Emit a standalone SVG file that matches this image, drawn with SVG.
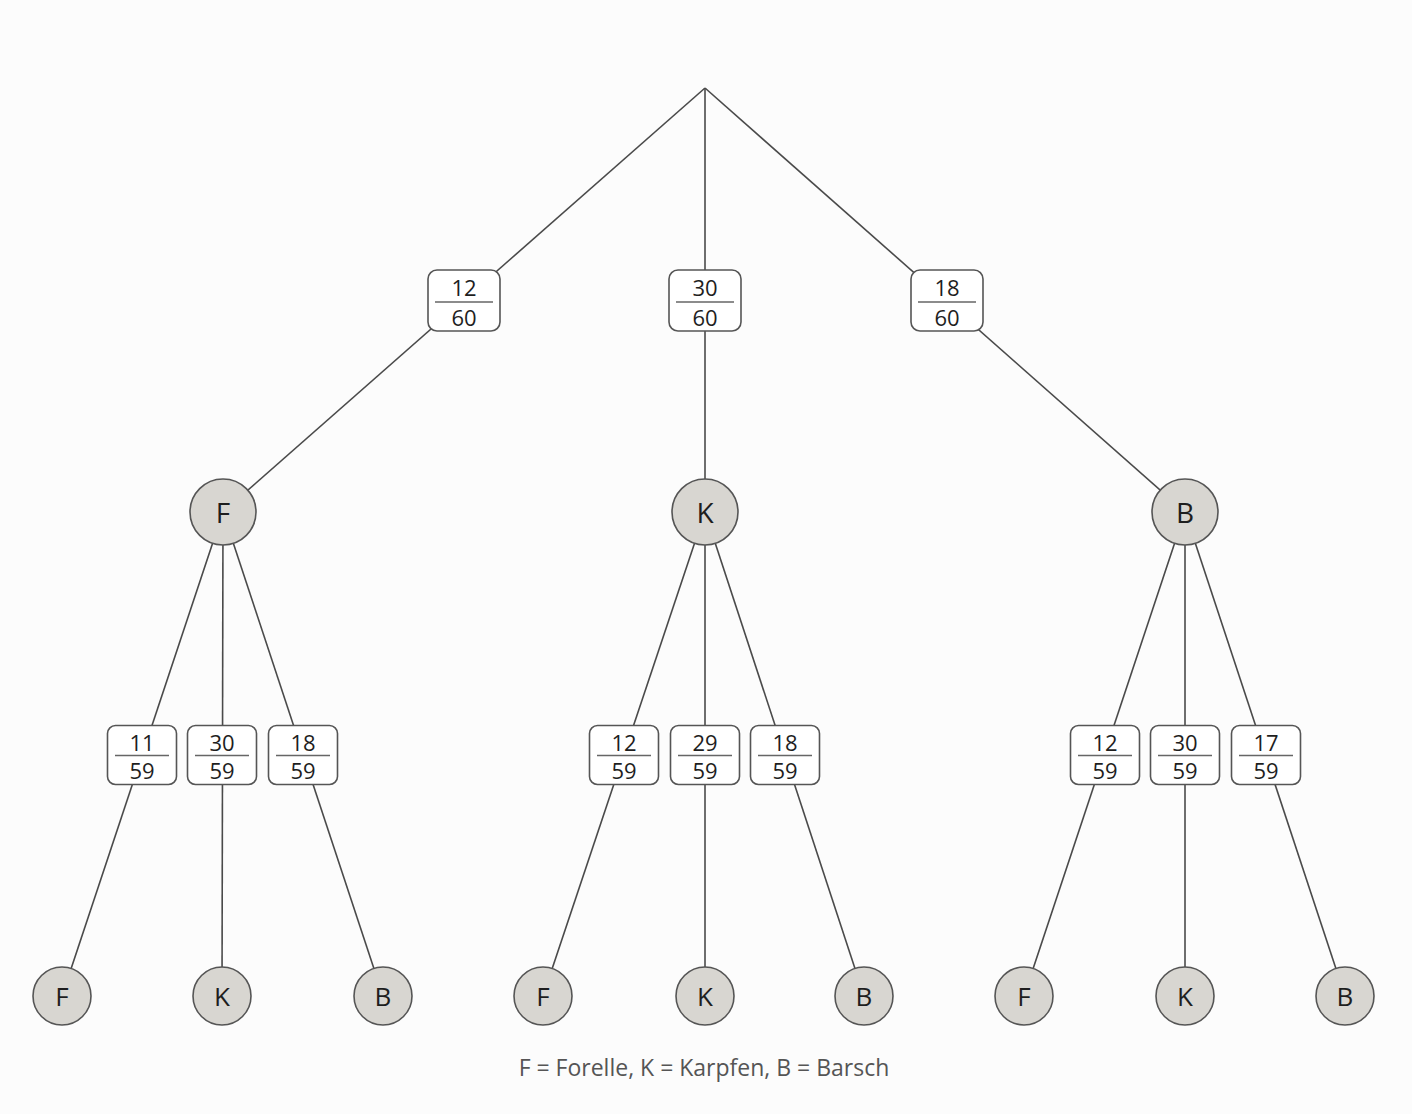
<svg xmlns="http://www.w3.org/2000/svg" width="1412" height="1114" viewBox="0 0 1412 1114">
<style>
.bg{fill:#fcfcfc}
.edge{stroke:#4a4a4a;stroke-width:1.6;fill:none}
.box{fill:#ffffff;stroke:#555;stroke-width:1.6}
.div{stroke:#666;stroke-width:1.4}
.num{font-family:"Open Sans","Noto Sans","Liberation Sans",sans-serif;font-size:22px;fill:#1e1e1e;text-anchor:middle}
.circ{fill:#d8d6d1;stroke:#555;stroke-width:1.6}
.lbl{font-family:"Open Sans","Noto Sans","Liberation Sans",sans-serif;font-size:28px;fill:#1e1e1e;text-anchor:middle}
.lbl2{font-family:"Open Sans","Noto Sans","Liberation Sans",sans-serif;font-size:26px;fill:#1e1e1e;text-anchor:middle}
.legend{font-family:"Open Sans","Noto Sans","Liberation Sans",sans-serif;font-size:23px;fill:#555;text-anchor:middle}
</style>
<defs>
<g id="tbox"><rect class="box" x="-36" y="-30.5" width="72" height="61" rx="9"/><line class="div" x1="-29" y1="1.5" x2="29" y2="1.5"/></g>
<g id="sbox"><rect class="box" x="-34.5" y="-29.5" width="69" height="59" rx="8"/><line class="div" x1="-27" y1="0.5" x2="27" y2="0.5"/></g>
</defs>
<rect class="bg" x="0" y="0" width="1412" height="1114"/>
<g id="connectors">
<line class="edge" x1="705" y1="88" x2="223" y2="512"/>
<line class="edge" x1="705" y1="88" x2="705" y2="512"/>
<line class="edge" x1="705" y1="88" x2="1185" y2="512"/>
<line class="edge" x1="223" y1="512" x2="62" y2="996"/>
<line class="edge" x1="223" y1="512" x2="222" y2="996"/>
<line class="edge" x1="223" y1="512" x2="383" y2="996"/>
<line class="edge" x1="705" y1="512" x2="543" y2="996"/>
<line class="edge" x1="705" y1="512" x2="705" y2="996"/>
<line class="edge" x1="705" y1="512" x2="864" y2="996"/>
<line class="edge" x1="1185" y1="512" x2="1024" y2="996"/>
<line class="edge" x1="1185" y1="512" x2="1185" y2="996"/>
<line class="edge" x1="1185" y1="512" x2="1345" y2="996"/>
</g>
<g id="p-F"><use href="#tbox" x="464" y="300.5"/><text class="num" x="464" y="296">12</text><text class="num" x="464" y="326">60</text></g>
<g id="p-K"><use href="#tbox" x="705" y="300.5"/><text class="num" x="705" y="296">30</text><text class="num" x="705" y="326">60</text></g>
<g id="p-B"><use href="#tbox" x="947" y="300.5"/><text class="num" x="947" y="296">18</text><text class="num" x="947" y="326">60</text></g>
<g id="n-F"><circle class="circ" cx="223" cy="512" r="33"/><text class="lbl" x="223" y="523">F</text></g>
<g id="n-K"><circle class="circ" cx="705" cy="512" r="33"/><text class="lbl" x="705" y="523">K</text></g>
<g id="n-B"><circle class="circ" cx="1185" cy="512" r="33"/><text class="lbl" x="1185" y="523">B</text></g>
<g id="p-FF"><use href="#sbox" x="142" y="755"/><text class="num" x="142" y="751">11</text><text class="num" x="142" y="779">59</text></g>
<g id="p-FK"><use href="#sbox" x="222" y="755"/><text class="num" x="222" y="751">30</text><text class="num" x="222" y="779">59</text></g>
<g id="p-FB"><use href="#sbox" x="303" y="755"/><text class="num" x="303" y="751">18</text><text class="num" x="303" y="779">59</text></g>
<g id="p-KF"><use href="#sbox" x="624" y="755"/><text class="num" x="624" y="751">12</text><text class="num" x="624" y="779">59</text></g>
<g id="p-KK"><use href="#sbox" x="705" y="755"/><text class="num" x="705" y="751">29</text><text class="num" x="705" y="779">59</text></g>
<g id="p-KB"><use href="#sbox" x="785" y="755"/><text class="num" x="785" y="751">18</text><text class="num" x="785" y="779">59</text></g>
<g id="p-BF"><use href="#sbox" x="1105" y="755"/><text class="num" x="1105" y="751">12</text><text class="num" x="1105" y="779">59</text></g>
<g id="p-BK"><use href="#sbox" x="1185" y="755"/><text class="num" x="1185" y="751">30</text><text class="num" x="1185" y="779">59</text></g>
<g id="p-BB"><use href="#sbox" x="1266" y="755"/><text class="num" x="1266" y="751">17</text><text class="num" x="1266" y="779">59</text></g>
<g id="n-FF"><circle class="circ" cx="62" cy="996" r="29"/><text class="lbl2" x="62" y="1006">F</text></g>
<g id="n-FK"><circle class="circ" cx="222" cy="996" r="29"/><text class="lbl2" x="222" y="1006">K</text></g>
<g id="n-FB"><circle class="circ" cx="383" cy="996" r="29"/><text class="lbl2" x="383" y="1006">B</text></g>
<g id="n-KF"><circle class="circ" cx="543" cy="996" r="29"/><text class="lbl2" x="543" y="1006">F</text></g>
<g id="n-KK"><circle class="circ" cx="705" cy="996" r="29"/><text class="lbl2" x="705" y="1006">K</text></g>
<g id="n-KB"><circle class="circ" cx="864" cy="996" r="29"/><text class="lbl2" x="864" y="1006">B</text></g>
<g id="n-BF"><circle class="circ" cx="1024" cy="996" r="29"/><text class="lbl2" x="1024" y="1006">F</text></g>
<g id="n-BK"><circle class="circ" cx="1185" cy="996" r="29"/><text class="lbl2" x="1185" y="1006">K</text></g>
<g id="n-BB"><circle class="circ" cx="1345" cy="996" r="29"/><text class="lbl2" x="1345" y="1006">B</text></g>
<g id="legend"><text class="legend" x="704" y="1076">F = Forelle, K = Karpfen, B = Barsch</text></g>
</svg>
